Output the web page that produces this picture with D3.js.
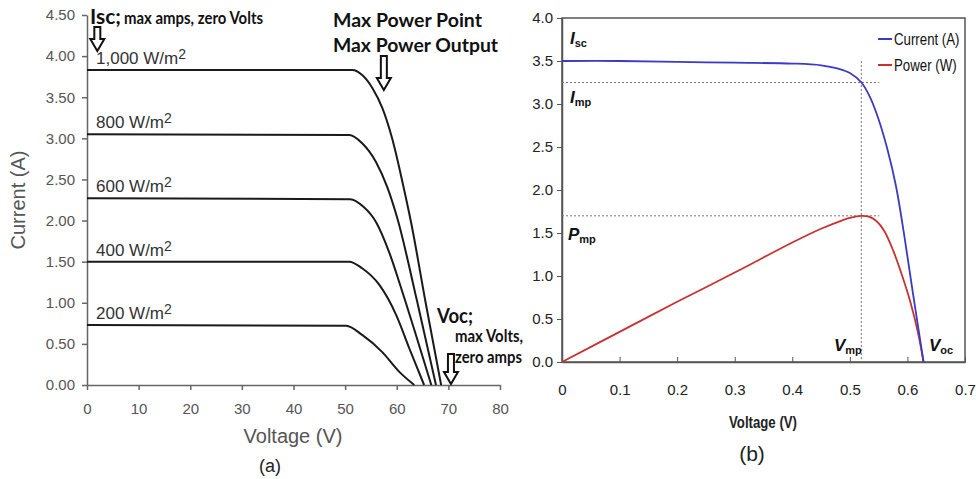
<!DOCTYPE html>
<html>
<head>
<meta charset="utf-8">
<title>Solar cell I-V curves</title>
<style>
  body { margin: 0; background: #fff; }
  svg { display: block; }
</style>
</head>
<body>
<div id="chart"></div>
<script src="https://d3js.org/d3.v7.min.js"></script>
<script>
// ---- data (a): I-V curves per irradiance, [volts, amps]
var irradiance = ["1,000", "800", "600", "400", "200"];
var curve1000 = [[0,3.83],[51.4,3.83],[53.3,3.77],[55.3,3.61],[57.2,3.37],[59.1,3.00],[61.1,2.47],[62.8,1.97],[65.6,1.0],[68.6,0]];
var curve800  = [[0,3.05],[50.8,3.04],[53.3,2.94],[56.0,2.71],[58.2,2.40],[60.1,2.03],[63.9,1.03],[67.6,0]];
var curve600  = [[0,2.27],[51.0,2.26],[53.5,2.17],[56.0,1.98],[58.5,1.62],[61.0,1.15],[64.0,0.55],[66.7,0]];
var curve400  = [[0,1.50],[50.8,1.50],[53.3,1.42],[56.6,1.22],[59.9,0.85],[62.4,0.45],[65.3,0]];
var curve200  = [[0,0.73],[50.2,0.72],[53.3,0.61],[57.2,0.40],[60.5,0.16],[63.4,0]];
var curvesA = [curve1000, curve800, curve600, curve400, curve200];
var xTicksA = [0,10,20,30,40,50,60,70,80];
var yTicksA = [0,0.5,1,1.5,2,2.5,3,3.5,4,4.5];

// ---- data (b): current and power vs voltage
var currentB = [[0,3.50],[0.1,3.50],[0.2,3.49],[0.3,3.48],[0.4,3.47],[0.45,3.45],[0.48,3.41],[0.50,3.36],[0.52,3.25],[0.535,3.08],[0.55,2.82],[0.565,2.48],[0.58,2.05],[0.595,1.45],[0.61,0.78],[0.628,0]];
var powerB = [[0,0],[0.1,0.35],[0.2,0.70],[0.3,1.04],[0.4,1.39],[0.45,1.55],[0.48,1.63],[0.50,1.675],[0.52,1.70],[0.533,1.69],[0.546,1.64],[0.56,1.52],[0.575,1.30],[0.59,1.02],[0.605,0.70],[0.618,0.35],[0.628,0]];
var xTicksB = [0,0.1,0.2,0.3,0.4,0.5,0.6,0.7];
var yTicksB = [0,0.5,1,1.5,2,2.5,3,3.5,4];
var Imp = 3.25, Pmp = 1.70, Vmp = 0.52;

var svg = d3.select("#chart").append("svg")
    .attr("width", 976)
    .attr("height", 479);

// ================= chart (a)
var xA = d3.scaleLinear().domain([0, 80]).range([87, 500]);
var yA = d3.scaleLinear().domain([0, 4.5]).range([385, 15]);

var gA = svg.append("g");

var axA = gA.append("g")
    .attr("transform", "translate(0," + yA(0) + ")")
    .call(d3.axisBottom(xA).tickValues(xTicksA).tickSizeInner(5).tickSizeOuter(0).tickPadding(13));
var ayA = gA.append("g")
    .attr("transform", "translate(" + xA(0) + ",0)")
    .call(d3.axisLeft(yA).tickValues(yTicksA).tickFormat(d3.format(".2f")).tickSizeInner(5).tickSizeOuter(0).tickPadding(7));
[axA, ayA].forEach(function (a) {
    a.selectAll("path, line").attr("stroke", "#666").attr("stroke-width", 1.5);
    a.selectAll("text").attr("fill", "#555").style("font-family", "Liberation Sans, Arial, sans-serif").style("font-size", "15px");
});

var lineA = d3.line()
    .x(function (d) { return xA(d[0]); })
    .y(function (d) { return yA(d[1]); })
    .curve(d3.curveMonotoneX);

gA.selectAll(".iv")
    .data(curvesA)
    .enter().append("path")
    .attr("class", "iv")
    .attr("d", lineA)
    .attr("fill", "none")
    .attr("stroke", "#1a1a1a")
    .attr("stroke-width", 2);

// irradiance labels
var lab = gA.selectAll(".lab")
    .data(curvesA)
    .enter().append("text")
    .attr("class", "lab")
    .attr("x", 96)
    .attr("y", function (d) { return yA(d[0][1]) - 6; })
    .attr("fill", "#333")
    .style("font-family", "Liberation Sans, Arial, sans-serif")
    .style("font-size", "17px");
lab.append("tspan").text(function (d, i) { return irradiance[i] + " W/m"; });
lab.append("tspan").attr("dy", -5).style("font-size", "14px").text("2");

gA.append("text")
    .attr("transform", "translate(25,200) rotate(-90)")
    .attr("text-anchor", "middle")
    .attr("fill", "#555")
    .style("font-family", "Liberation Sans, Arial, sans-serif")
    .style("font-size", "20px")
    .text("Current (A)");

gA.append("text")
    .attr("x", 293).attr("y", 443)
    .attr("text-anchor", "middle")
    .attr("fill", "#555")
    .style("font-family", "Liberation Sans, Arial, sans-serif")
    .style("font-size", "20px")
    .text("Voltage (V)");

gA.append("text")
    .attr("x", 270).attr("y", 472)
    .attr("text-anchor", "middle")
    .attr("fill", "#222")
    .style("font-family", "Liberation Sans, Arial, sans-serif")
    .style("font-size", "18px")
    .text("(a)");

// annotations (stretched to the widths seen in the reference)
var annFont = "Lato, 'Open Sans', sans-serif";
function annText(x, y, size, txt, len) {
    return gA.append("text")
        .attr("x", x).attr("y", y)
        .attr("fill", "#111")
        .attr("textLength", len)
        .attr("lengthAdjust", "spacingAndGlyphs")
        .style("font-family", annFont)
        .style("font-weight", "bold")
        .style("font-size", size + "px")
        .text(txt);
}
annText(90, 24, 20, "Isc;", 31);
annText(124, 24, 16.5, "max amps, zero Volts", 139);
annText(333, 27, 18.5, "Max Power Point", 149);
annText(333, 52, 18.5, "Max Power Output", 165);
annText(437, 323, 20, "Voc;", 36);
annText(455, 342, 16.5, "max Volts,", 68);
annText(455, 363, 16.5, "zero amps", 67);

function downArrow(cx, top, bottom) {
    var sw = 3, hw = 7, hh = 12;
    var p = [[cx - sw, top], [cx + sw, top], [cx + sw, bottom - hh], [cx + hw, bottom - hh],
             [cx, bottom], [cx - hw, bottom - hh], [cx - sw, bottom - hh]];
    gA.append("path")
        .attr("d", "M" + p.join("L") + "Z")
        .attr("fill", "#fff")
        .attr("stroke", "#111")
        .attr("stroke-width", 2)
        .attr("stroke-linejoin", "miter");
}
downArrow(xA(2), 27, 51);
downArrow(xA(57.5), 56, 90);
downArrow(xA(70.5), 354, 384);

// ================= chart (b)
var xB = d3.scaleLinear().domain([0, 0.7]).range([562, 965]);
var yB = d3.scaleLinear().domain([0, 4]).range([362, 18]);
var gB = svg.append("g");
var fB = "'Liberation Sans Narrow', 'Arial Narrow', 'Liberation Sans', sans-serif";

gB.append("rect")
    .attr("x", xB(0)).attr("y", yB(4))
    .attr("width", xB(0.7) - xB(0)).attr("height", yB(0) - yB(4))
    .attr("fill", "none")
    .attr("stroke", "#555")
    .attr("stroke-width", 1.5);

var axB = gB.append("g")
    .attr("transform", "translate(0," + yB(0) + ")")
    .call(d3.axisBottom(xB).tickValues(xTicksB).tickFormat(d3.format("")).tickSizeInner(-5).tickSizeOuter(0).tickPadding(22));
var ayB = gB.append("g")
    .attr("transform", "translate(" + xB(0) + ",0)")
    .call(d3.axisLeft(yB).tickValues(yTicksB).tickFormat(d3.format(".1f")).tickSizeInner(5).tickSizeOuter(0).tickPadding(4));
[axB, ayB].forEach(function (a) {
    a.select(".domain").attr("stroke", "#555").attr("stroke-width", 1.5);
    a.selectAll(".tick line").attr("stroke", "#555");
    a.selectAll("text").attr("fill", "#222").style("font-family", fB).style("font-size", "15px");
});

// dotted guide lines
function dotted(x1, y1, x2, y2) {
    gB.append("line")
        .attr("x1", x1).attr("y1", y1).attr("x2", x2).attr("y2", y2)
        .attr("stroke", "#777")
        .attr("stroke-width", 1)
        .attr("stroke-dasharray", "2,2");
}
dotted(xB(0), yB(Imp), xB(0.551), yB(Imp));
dotted(xB(0), yB(Pmp), xB(0.551), yB(Pmp));
dotted(xB(Vmp), yB(3.5), xB(Vmp), yB(0));

var lineB = d3.line()
    .x(function (d) { return xB(d[0]); })
    .y(function (d) { return yB(d[1]); })
    .curve(d3.curveCatmullRom.alpha(0.5));

gB.append("path").datum(powerB)
    .attr("d", lineB)
    .attr("fill", "none")
    .attr("stroke", "#c83232")
    .attr("stroke-width", 1.8);
gB.append("path").datum(currentB)
    .attr("d", lineB)
    .attr("fill", "none")
    .attr("stroke", "#3a3ac4")
    .attr("stroke-width", 1.8);

// legend (text squeezed horizontally to mimic a narrow face)
var legend = [["Current (A)", "#3a3ac4"], ["Power (W)", "#c83232"]];
legend.forEach(function (l, i) {
    var y = 39 + i * 26;
    gB.append("line").attr("x1", 878).attr("x2", 892).attr("y1", y).attr("y2", y)
        .attr("stroke", l[1]).attr("stroke-width", 2);
    gB.append("text")
        .attr("transform", "translate(894," + (y + 6) + ") scale(0.78,1)")
        .attr("fill", "#111")
        .style("font-family", fB).style("font-size", "17px")
        .text(l[0]);
});

// italic labels with subscripts
function subLabel(x, y, main, sub) {
    var t = gB.append("text").attr("x", x).attr("y", y)
        .attr("fill", "#111")
        .style("font-family", fB).style("font-weight", "bold");
    t.append("tspan").style("font-style", "italic").style("font-size", "17px").text(main);
    t.append("tspan").attr("dy", 3).style("font-size", "11px").text(sub);
}
subLabel(570, 44, "I", "sc");
subLabel(570, 103, "I", "mp");
subLabel(568, 240, "P", "mp");
subLabel(834, 351, "V", "mp");
subLabel(929, 351, "V", "oc");

gB.append("text")
    .attr("transform", "translate(763,428) scale(0.8,1)")
    .attr("text-anchor", "middle")
    .attr("fill", "#222")
    .style("font-family", fB).style("font-weight", "bold")
    .style("font-size", "16.5px")
    .text("Voltage (V)");

gB.append("text")
    .attr("x", 752).attr("y", 461)
    .attr("text-anchor", "middle")
    .attr("fill", "#222")
    .style("font-family", fB)
    .style("font-size", "21px")
    .text("(b)");
</script>
</body>
</html>
